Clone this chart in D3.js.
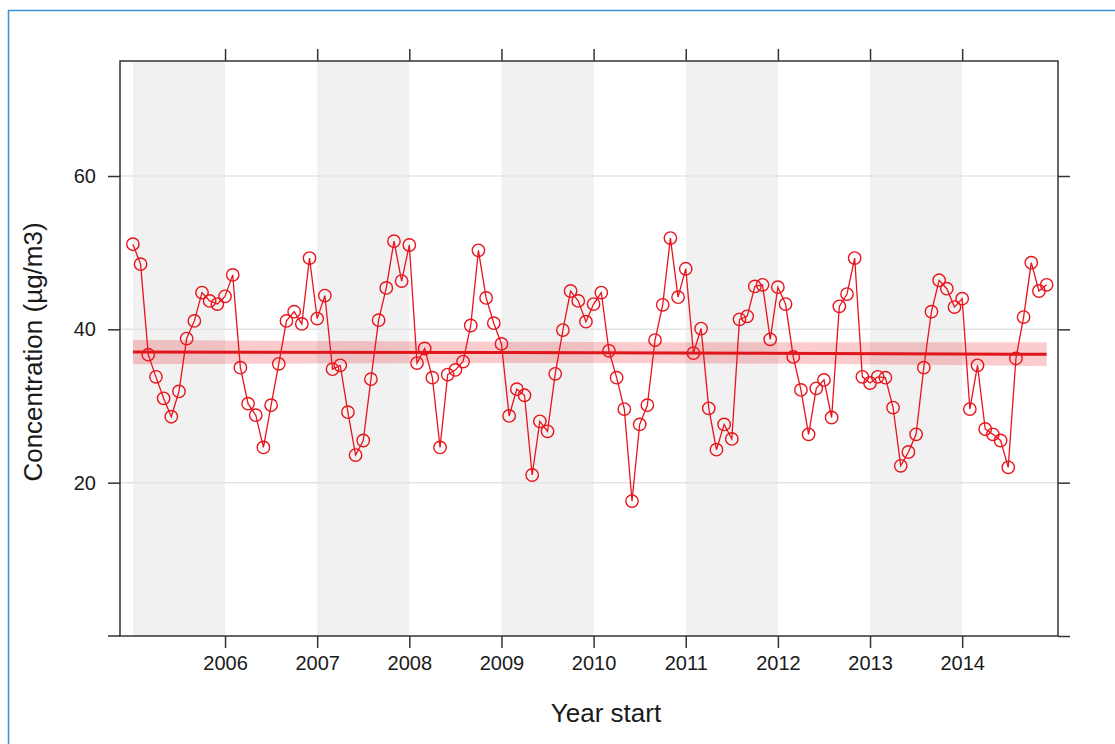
<!DOCTYPE html>
<html>
<head>
<meta charset="utf-8">
<script src="https://cdn.jsdelivr.net/npm/d3@7"></script>
<style>
  body { margin: 0; background: #fff; }
  svg { display: block; font-family: "Liberation Sans", Arial, sans-serif; }
</style>
</head>
<body>
<svg id="chart" width="1115" height="744"></svg>
<script>
// monthly means, Jan 2005 .. Dec 2014
var startYear = 2005;
var concentration = [
    51.1, 48.5, 36.7, 33.8, 31.0, 28.6, 31.9, 38.8, 41.1, 44.8, 43.7, 43.3,
    44.3, 47.1, 35.0, 30.3, 28.8, 24.6, 30.1, 35.5, 41.1, 42.3, 40.7, 49.3,
    41.4, 44.4, 34.8, 35.3, 29.2, 23.6, 25.5, 33.5, 41.2, 45.4, 51.5, 46.3,
    51.0, 35.6, 37.5, 33.7, 24.6, 34.1, 34.7, 35.8, 40.5, 50.3, 44.1, 40.8,
    38.1, 28.7, 32.2, 31.4, 21.0, 28.0, 26.7, 34.2, 39.9, 45.0, 43.7, 41.0,
    43.3, 44.8, 37.2, 33.7, 29.6, 17.6, 27.6, 30.1, 38.6, 43.2, 51.9, 44.2,
    47.9, 36.9, 40.1, 29.7, 24.3, 27.6, 25.7, 41.3, 41.7, 45.6, 45.8, 38.7,
    45.5, 43.3, 36.4, 32.1, 26.3, 32.3, 33.4, 28.5, 43.0, 44.6, 49.3, 33.8,
    33.0, 33.8, 33.7, 29.8, 22.2, 24.0, 26.3, 35.0, 42.3, 46.4, 45.3, 42.9,
    44.0, 29.6, 35.3, 27.0, 26.3, 25.5, 22.0, 36.2, 41.6, 48.7, 45.0, 45.8
];

// trend line and its confidence band
var trendYears = [2005.0, 2010.0, 2014.917];
var trendFit   = [37.05, 36.95, 36.75];
var trendLower = [35.45, 35.6, 35.2];
var trendUpper = [38.6, 38.35, 38.3];

var yearTicks = [2006, 2007, 2008, 2009, 2010, 2011, 2012, 2013, 2014];
var yTicks = [0, 20, 40, 60];
var shadedYears = [2005, 2007, 2009, 2011, 2013];

var svg = d3.select("#chart");

var plotL = 120, plotR = 1058, plotT = 61, plotB = 636;

var x = d3.scaleLinear().domain([2004.86, 2015.04]).range([plotL, plotR]);
var y = d3.scaleLinear().domain([0, 75]).range([plotB, plotT]);

// outer blue frame
svg.append("rect")
    .attr("x", 8.5).attr("y", 10.5)
    .attr("width", 1200).attr("height", 800)
    .attr("fill", "none")
    .attr("stroke", "#3b8fd6")
    .attr("stroke-width", 1.5);

// alternating year shading
svg.selectAll(".band")
    .data(shadedYears)
    .enter()
    .append("rect")
    .attr("class", "band")
    .attr("x", function(d) { return x(d); })
    .attr("y", plotT)
    .attr("width", function(d) { return x(d + 1) - x(d); })
    .attr("height", plotB - plotT)
    .attr("fill", "#f1f1f1");

// horizontal grid
svg.selectAll(".grid")
    .data([20, 40, 60])
    .enter()
    .append("line")
    .attr("x1", plotL).attr("x2", plotR)
    .attr("y1", function(d) { return y(d); })
    .attr("y2", function(d) { return y(d); })
    .attr("stroke", "#e4e4e4")
    .attr("stroke-width", 1.5);

var pts = concentration.map(function(v, i) {
    return { t: startYear + i / 12, v: v };
});

var trend = trendYears.map(function(t, i) {
    return { t: t, fit: trendFit[i], lo: trendLower[i], hi: trendUpper[i] };
});

// confidence band
svg.append("path")
    .datum(trend)
    .attr("d", d3.area()
        .curve(d3.curveMonotoneX)
        .x(function(d) { return x(d.t); })
        .y0(function(d) { return y(d.lo); })
        .y1(function(d) { return y(d.hi); }))
    .attr("fill", "#e8000b")
    .attr("fill-opacity", 0.2);

// series line
svg.append("path")
    .datum(pts)
    .attr("d", d3.line()
        .x(function(d) { return x(d.t); })
        .y(function(d) { return y(d.v); }))
    .attr("fill", "none")
    .attr("stroke", "#e8141c")
    .attr("stroke-width", 1.3);

// trend line
svg.append("path")
    .datum(trend)
    .attr("d", d3.line()
        .curve(d3.curveMonotoneX)
        .x(function(d) { return x(d.t); })
        .y(function(d) { return y(d.fit); }))
    .attr("fill", "none")
    .attr("stroke", "#e0161d")
    .attr("stroke-width", 3);

// open circle markers
svg.selectAll(".pt")
    .data(pts)
    .enter()
    .append("circle")
    .attr("class", "pt")
    .attr("cx", function(d) { return x(d.t); })
    .attr("cy", function(d) { return y(d.v); })
    .attr("r", 6.2)
    .attr("fill", "none")
    .attr("stroke", "#e8141c")
    .attr("stroke-width", 1.4);

// axes, lattice style: ticks outside on all four sides
function styleAxis(g) {
    g.select(".domain").remove();
    g.selectAll(".tick line").attr("stroke", "#333").attr("stroke-width", 1.5);
    g.selectAll(".tick text")
        .attr("fill", "#1a1a1a")
        .attr("font-size", 20)
        .attr("font-family", "Liberation Sans, Arial, sans-serif");
}

svg.append("g")
    .attr("transform", "translate(0," + plotB + ")")
    .call(d3.axisBottom(x).tickValues(yearTicks).tickFormat(d3.format("d")).tickSize(12).tickPadding(8))
    .call(styleAxis);

svg.append("g")
    .attr("transform", "translate(0," + plotT + ")")
    .call(d3.axisTop(x).tickValues(yearTicks).tickFormat("").tickSize(12))
    .call(styleAxis);

svg.append("g")
    .attr("transform", "translate(" + plotL + ",0)")
    .call(d3.axisLeft(y).tickValues(yTicks.slice(1)).tickSize(12).tickPadding(12))
    .call(styleAxis);

svg.append("g")
    .attr("transform", "translate(" + plotR + ",0)")
    .call(d3.axisRight(y).tickValues(yTicks).tickFormat("").tickSize(12))
    .call(styleAxis);

// zero tick on the left without a label
svg.append("line")
    .attr("x1", plotL - 12).attr("x2", plotL)
    .attr("y1", y(0)).attr("y2", y(0))
    .attr("stroke", "#333").attr("stroke-width", 1.5);

// plot frame
svg.append("rect")
    .attr("x", plotL).attr("y", plotT)
    .attr("width", plotR - plotL).attr("height", plotB - plotT)
    .attr("fill", "none")
    .attr("stroke", "#333")
    .attr("stroke-width", 1.5);

// axis titles
svg.append("text")
    .attr("x", (plotL + plotR) / 2 + 17)
    .attr("y", 722)
    .attr("text-anchor", "middle")
    .attr("font-size", 26)
    .attr("fill", "#1a1a1a")
    .text("Year start");

svg.append("text")
    .attr("transform", "translate(42,352) rotate(-90)")
    .attr("text-anchor", "middle")
    .attr("font-size", 26)
    .attr("fill", "#1a1a1a")
    .text("Concentration (µg/m3)");
</script>
</body>
</html>
